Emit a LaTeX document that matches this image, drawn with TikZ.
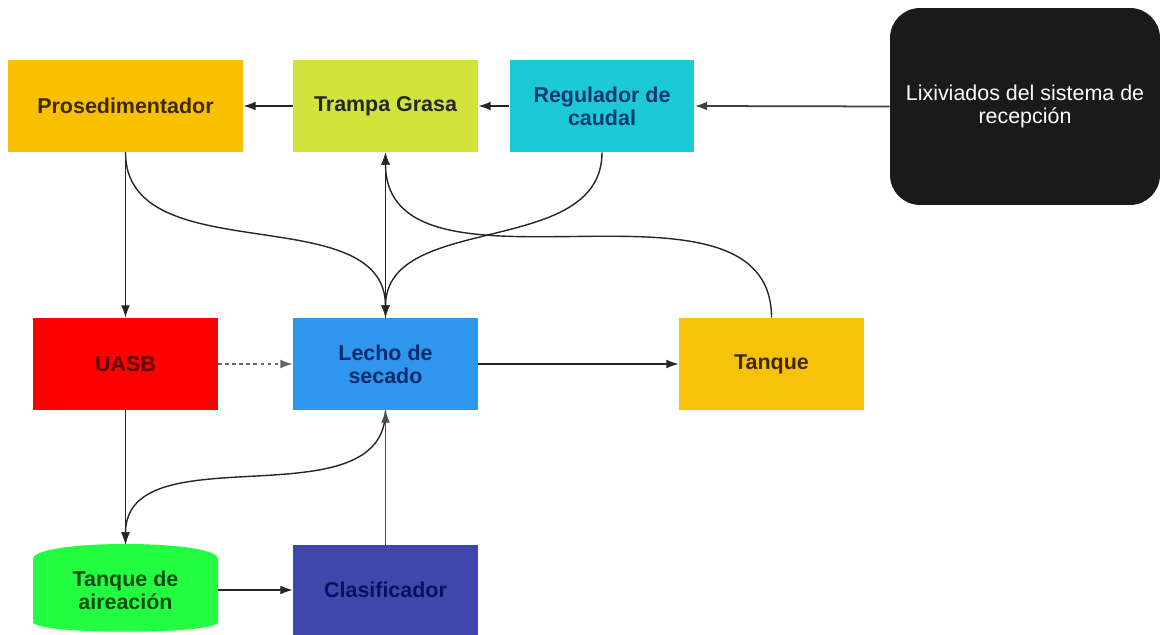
\documentclass[tikz,border=0pt]{standalone}
\usepackage{fontspec}
\setmainfont{Liberation Sans}
\usepackage[HTML]{xcolor}
\usetikzlibrary{arrows.meta}

\definecolor{prosFill}{HTML}{F9C000}
\definecolor{trampaFill}{HTML}{D2E43C}
\definecolor{reguFill}{HTML}{1CCAD7}
\definecolor{lixFill}{HTML}{1A1A1A}
\definecolor{uasbFill}{HTML}{FF0000}
\definecolor{lechoFill}{HTML}{2F96EE}
\definecolor{tanqueFill}{HTML}{F7C20A}
\definecolor{aireFill}{HTML}{22FF40}
\definecolor{clasFill}{HTML}{3F47AD}
\definecolor{prosText}{HTML}{3D2A00}
\definecolor{reguText}{HTML}{06396B}
\definecolor{uasbText}{HTML}{5A0000}
\definecolor{lechoText}{HTML}{0A2A6E}
\definecolor{aireText}{HTML}{004A10}
\definecolor{clasText}{HTML}{0A1060}

\tikzset{
  box/.style={rectangle, minimum width=3.7cm, minimum height=1.84cm,
    inner sep=2pt, align=center},
  flow/.style={draw=black!85, line width=0.8pt, -{Latex[length=7pt,width=5pt]}},
}

\begin{document}
\begin{tikzpicture}[x=0.02cm, y=0.02cm,
  every node/.style={font=\fontsize{12.2pt}{13pt}\selectfont\bfseries}]
\useasboundingbox (0,0) rectangle (1169,635);

% --- Top row ---
\node[box, fill=prosFill, text=prosText, minimum width=4.7cm] (pros) at (125.5,529) {Prosedimentador};
\node[box, fill=trampaFill, text=black!85] (trampa) at (385.5,529) {Trampa Grasa};
\node[box, fill=reguFill, text=reguText] (regu) at (602,529) {Regulador de\\caudal};
\node[box, fill=lixFill, text=white, minimum width=5.4cm, minimum height=3.94cm,
  rounded corners=0.6cm, font=\fontsize{12.2pt}{13pt}\selectfont] (lix) at (1025,528.5)
  {Lixiviados del sistema de\\recepción};

% --- Middle row ---
\node[box, fill=uasbFill, text=uasbText] (uasb) at (125.5,271) {UASB};
\node[box, fill=lechoFill, text=lechoText] (lecho) at (385.5,271) {Lecho de\\secado};
\node[box, fill=tanqueFill, text=prosText] (tanque) at (771.5,271) {Tanque};

% --- Bottom row (cylinder drawn behind its node) ---
\fill[aireFill] (33,76) .. controls (33,96) and (218,96) .. (218,76)
  -- (218,13) .. controls (218,0) and (33,0) .. (33,13) -- cycle;
\node[box, minimum height=1.8cm, text=aireText] (aire) at (125.5,45) {Tanque de\\aireación};
\node[box, fill=clasFill, minimum height=1.8cm, text=clasText] (clas) at (385.5,45) {Clasificador};

% --- Top row flow ---
\draw[flow, draw=black!75, line width=1pt] (lix.west) -- (regu.east);
\draw[flow] (regu.west) -- (trampa.east);
\draw[flow] (trampa.west) -- (pros.east);

% --- Down to middle row ---
\draw[flow] (pros.south) -- (uasb.north);
\draw[flow] (pros.south) to[out=-90, in=90] (lecho.north);
\draw[flow] (regu.south) to[out=-90, in=90] (lecho.north);
\draw[flow] (lecho.north) -- (trampa.south);
\draw[flow] (tanque.north) to[out=90, in=-90] (trampa.south);

% --- Middle row flow ---
\draw[flow, draw=black!60, dash pattern=on 2pt off 2pt] (uasb.east) -- (lecho.west);
\draw[flow] (lecho.east) -- (tanque.west);

% --- Bottom row flow ---
\draw[flow] (uasb.south) -- (aire.north);
\draw[flow] (lecho.south) to[out=-90, in=90] (aire.north);
\draw[flow, draw=black!70, line width=0.6pt] (clas.north) -- (lecho.south);
\draw[flow, line width=0.6pt] (aire.east) -- (clas.west);
\end{tikzpicture}
\end{document}
